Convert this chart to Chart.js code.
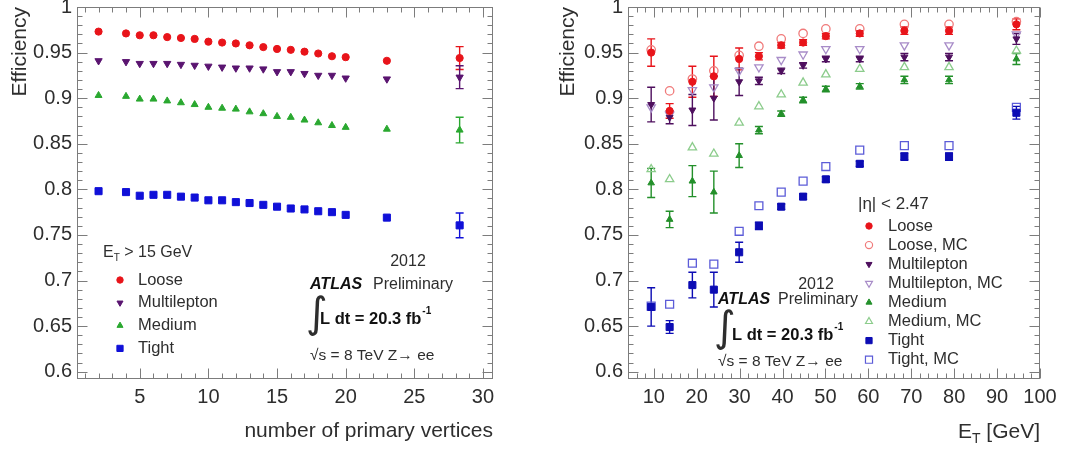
<!DOCTYPE html>
<html><head><meta charset="utf-8">
<script src="https://cdn.jsdelivr.net/npm/chart.js@4.4.0/dist/chart.umd.min.js"></script>
<style>
html,body{margin:0;padding:0;background:#fff;}
#wrap{position:relative;width:1084px;height:450px;overflow:hidden;}
#c1{position:absolute;left:0;top:0;}
#c2{position:absolute;left:540px;top:0;}
</style></head><body>
<div id="wrap"><canvas id="c1" width="540" height="450"></canvas><canvas id="c2" width="544" height="450"></canvas></div>
<script>
// ---------------- DATA ----------------
// Left panel: efficiency vs number of primary vertices (E_T > 15 GeV)
const nvtx = [2,4,5,6,7,8,9,10,11,12,13,14,15,16,17,18,19,20,23,28.3];
const looseNvtx  = [0.973,0.971,0.969,0.969,0.967,0.966,0.965,0.962,0.961,0.960,0.958,0.956,0.954,0.953,0.951,0.949,0.946,0.945,0.941,0.944];
const mlNvtx     = [0.941,0.940,0.938,0.938,0.938,0.937,0.936,0.935,0.934,0.933,0.933,0.932,0.929,0.929,0.927,0.925,0.925,0.922,0.921,0.923];
const mediumNvtx = [0.903,0.902,0.899,0.899,0.897,0.895,0.893,0.890,0.889,0.888,0.885,0.883,0.880,0.879,0.876,0.873,0.870,0.868,0.866,0.865];
const tightNvtx  = [0.798,0.797,0.793,0.794,0.794,0.792,0.791,0.788,0.788,0.786,0.785,0.783,0.781,0.779,0.778,0.776,0.775,0.772,0.769,0.7605];
const looseNvtxErr  = [0,0,0,0,0,0,0,0,0,0,0,0,0,0,0,0,0,0,0,0.0125];
const mlNvtxErr     = [0,0,0,0,0,0,0,0,0,0,0,0,0,0,0,0,0,0,0,0.0125];
const mediumNvtxErr = [0,0,0,0,0,0,0,0,0,0,0,0,0,0,0,0,0,0,0,0.014];
const tightNvtxErr  = [0,0,0,0,0,0,0,0,0,0,0,0,0,0,0,0,0,0,0,0.0135];

// Right panel: efficiency vs E_T (|eta| < 2.47), data and MC
const et = [9.4,13.7,19.0,24.0,29.9,34.5,39.7,44.8,50.1,58.0,68.4,78.8,94.5];
const looseEt     = [0.950,0.886,0.918,0.924,0.943,0.946,0.958,0.961,0.968,0.971,0.974,0.974,0.981];
const looseEtErr  = [0.015,0.008,0.017,0.022,0.012,0.004,0.003,0.003,0.003,0.003,0.004,0.004,0.006];
const looseMcEt   = [0.953,0.908,0.921,0.930,0.947,0.957,0.965,0.971,0.976,0.976,0.981,0.981,0.984];
const mlEt        = [0.893,0.879,0.887,0.900,0.918,0.919,0.930,0.936,0.943,0.943,0.945,0.945,0.965];
const mlEtErr     = [0.019,0.007,0.017,0.024,0.015,0.004,0.003,0.003,0.003,0.003,0.004,0.004,0.006];
const mlMcEt      = [0.890,0.882,0.909,0.912,0.930,0.934,0.942,0.948,0.954,0.954,0.958,0.958,0.970];
const mediumEt    = [0.807,0.767,0.809,0.797,0.837,0.865,0.883,0.898,0.910,0.913,0.920,0.920,0.943];
const mediumEtErr = [0.016,0.009,0.017,0.023,0.013,0.004,0.003,0.003,0.003,0.003,0.004,0.004,0.006];
const mediumMcEt  = [0.822,0.811,0.846,0.839,0.873,0.891,0.904,0.917,0.926,0.932,0.934,0.934,0.952];
const tightEt     = [0.671,0.649,0.695,0.690,0.731,0.760,0.781,0.792,0.811,0.828,0.836,0.836,0.884];
const tightEtErr  = [0.021,0.007,0.014,0.019,0.011,0.004,0.003,0.003,0.003,0.003,0.004,0.004,0.007];
const tightMcEt   = [0.672,0.674,0.719,0.718,0.754,0.782,0.797,0.809,0.825,0.843,0.848,0.848,0.890];

// Tick labels
const yTickValues = [0.6,0.65,0.7,0.75,0.8,0.85,0.9,0.95,1];
const yTickLabels = ['0.6','0.65','0.7','0.75','0.8','0.85','0.9','0.95','1'];
const nvtxTickValues = [5,10,15,20,25,30];
const nvtxTickLabels = ['5','10','15','20','25','30'];
const etTickValues = [10,20,30,40,50,60,70,80,90,100];
const etTickLabels = ['10','20','30','40','50','60','70','80','90','100'];

// ---------------- STYLE / HELPERS ----------------
const FONT = "'Liberation Sans', Arial, Helvetica, sans-serif";
const TXT = '#2e2e2e';
Chart.defaults.font.family = FONT;
Chart.defaults.color = TXT;
Chart.defaults.animation = false;

const C = {
  loose:'#e8141a', looseMc:'#f07a7a',
  ml:'#4e0f5e', mlNvtx:'#5a1470', mlMc:'#a88cc8',
  medium:'#23902a', mediumNvtx:'#2aa830', mediumMc:'#8ccc8c',
  tight:'#0c0cb4', tightNvtx:'#1010d8', tightMc:'#5c5cd8'
};

function mkds(label, xs, ys, errs, color, style, rot, filled, r){
  return {
    label, data: xs.map((x,i)=>({x, y: ys[i]})), errors: errs, showLine:false,
    pointStyle: style, pointRotation: rot, pointRadius: r, pointHoverRadius: r,
    pointBackgroundColor: filled ? color : 'rgba(0,0,0,0)',
    pointBorderColor: color, pointBorderWidth: filled ? 1 : 1.3,
    borderColor: color, backgroundColor: color
  };
}

const errorBars = {
  id:'errorBars',
  beforeDatasetsDraw(chart){
    const {ctx, scales:{x,y}} = chart;
    ctx.save();
    ctx.lineWidth = 1.4;
    chart.data.datasets.forEach(ds=>{
      if(!ds.errors) return;
      ctx.strokeStyle = ds.borderColor;
      ds.data.forEach((p,j)=>{
        const e = ds.errors[j]; if(!e) return;
        const px = x.getPixelForValue(p.x);
        const y1 = y.getPixelForValue(p.y+e), y2 = y.getPixelForValue(p.y-e);
        ctx.beginPath();
        ctx.moveTo(px,y1); ctx.lineTo(px,y2);
        ctx.moveTo(px-4,y1); ctx.lineTo(px+4,y1);
        ctx.moveTo(px-4,y2); ctx.lineTo(px+4,y2);
        ctx.stroke();
      });
    });
    ctx.restore();
  }
};

function frameTicks(xMajor, xMinor){
  return {
    id:'frameTicks',
    afterDraw(chart){
      const {ctx, chartArea:a, scales:{x,y}} = chart;
      ctx.save();
      ctx.strokeStyle = '#7c7c7c'; ctx.lineWidth = 1;
      const L0 = Math.round(a.left)+0.5, R0 = Math.round(a.right)-0.5, T0 = Math.round(a.top)+0.5, B0 = Math.round(a.bottom)-0.5;
      ctx.strokeRect(L0, T0, R0-L0, B0-T0);
      ctx.beginPath();
      const isMul = (v,m)=>Math.abs(v/m-Math.round(v/m))<1e-6;
      for(let k=Math.ceil(x.min/xMinor); k*xMinor<=x.max+1e-9; k++){
        const v=k*xMinor, px=Math.round(x.getPixelForValue(v))+0.5;
        const L = isMul(v,xMajor)?10:5;
        ctx.moveTo(px,B0); ctx.lineTo(px,B0-L);
        ctx.moveTo(px,T0); ctx.lineTo(px,T0+L);
      }
      for(let k=Math.ceil(y.min/0.01-1e-6); k*0.01<=y.max+1e-9; k++){
        const v=k*0.01, py=Math.round(y.getPixelForValue(v))+0.5;
        const L = isMul(v,0.05)?10:5;
        ctx.moveTo(L0,py); ctx.lineTo(L0+L,py);
        ctx.moveTo(R0,py); ctx.lineTo(R0-L,py);
      }
      ctx.stroke();
      ctx.restore();
    }
  };
}

function txt(ctx, s, x, y, size, o={}){
  ctx.font = `${o.style||'normal'} ${o.weight||'normal'} ${size}px ${o.family||FONT}`;
  ctx.fillStyle = o.color||TXT; ctx.textAlign = o.align||'left'; ctx.textBaseline='middle';
  ctx.fillText(s, x, y);
  return ctx.measureText(s).width;
}
function marker(ctx, style, rot, filled, color, r, x, y){
  ctx.save();
  ctx.fillStyle = filled ? color : 'rgba(0,0,0,0)';
  ctx.strokeStyle = color; ctx.lineWidth = filled?1:1.2;
  Chart.helpers.drawPoint(ctx, {pointStyle:style, rotation:rot, radius:r, borderWidth:1}, x, y);
  ctx.restore();
}
function atlasBlock(ctx, x, yYear, xYear, yAtlas, xPrelim, xInt, yInt, xL, yL, ySqrt){
  txt(ctx, '2012', xYear, yYear, 16, {align:'center'});
  txt(ctx, 'ATLAS', x, yAtlas, 16, {style:'italic', weight:'bold', color:'#111'});
  txt(ctx, 'Preliminary', xPrelim, yAtlas, 16);
  txt(ctx, '\u222B', xInt, yInt, 42, {family:"'DejaVu Sans', sans-serif"});
  const w = txt(ctx, 'L dt = 20.3 fb', xL, yL, 16.5, {weight:'bold', color:'#111'});
  txt(ctx, '-1', xL+w+1, yL-8, 10, {weight:'bold', color:'#111'});
  txt(ctx, '\u221As = 8 TeV Z\u2192 ee', x, ySqrt, 15.5);
}

function yScale(leftWidth, titlePad){
  return {
    type:'linear', position:'left', min:0.592, max:1.0,
    grid:{display:false, drawTicks:false}, border:{display:false},
    afterBuildTicks: s => { s.ticks = yTickValues.map(v=>({value:v})); },
    ticks:{padding:5, autoSkip:false, font:{size:20}, color:TXT, callback:(v,i)=>yTickLabels[i]},
    title:{display:true, text:'Efficiency', align:'end', font:{size:21}, color:TXT, padding:{top:titlePad, bottom:0}},
    afterFit: s => { s.width = leftWidth; s.paddingTop = 0; s.paddingBottom = 0; }
  };
}
function xScale(min, max, vals, labels, title){
  return {
    type:'linear', position:'bottom', min, max,
    grid:{display:false, drawTicks:false}, border:{display:false},
    afterBuildTicks: s => { s.ticks = vals.map(v=>({value:v})); },
    ticks:{padding:6, autoSkip:false, maxRotation:0, font:{size:20}, color:TXT, callback:(v,i)=>labels[i]},
    title:{display:!!title, text:title||'', align:'end', font:{size:21}, color:TXT, padding:{top:0, bottom:6}},
    afterFit: s => { s.height = 71; s.paddingLeft = 0; s.paddingRight = 0; }
  };
}

// ---------------- LEFT CHART ----------------
new Chart(document.getElementById('c1'), {
  type:'scatter',
  data:{datasets:[
    mkds('Loose', nvtx, looseNvtx, looseNvtxErr, C.loose, 'circle', 0, true, 3.6),
    mkds('Multilepton', nvtx, mlNvtx, mlNvtxErr, C.mlNvtx, 'triangle', 180, true, 4.2),
    mkds('Medium', nvtx, mediumNvtx, mediumNvtxErr, C.mediumNvtx, 'triangle', 0, true, 4.0),
    mkds('Tight', nvtx, tightNvtx, tightNvtxErr, C.tightNvtx, 'rect', 0, true, 5.0)
  ]},
  options:{
    responsive:false, devicePixelRatio:1, events:[],
    layout:{padding:{left:0, top:7, right:47, bottom:0}},
    plugins:{legend:{display:false}, tooltip:{enabled:false}},
    scales:{ x: xScale(0.43, 30.73, nvtxTickValues, nvtxTickLabels, 'number of primary vertices'), y: yScale(77, 8) }
  },
  plugins:[errorBars, frameTicks(5,1), {
    id:'annotLeft',
    afterDraw(chart){
      const ctx = chart.ctx; ctx.save();
      let w = txt(ctx, 'E', 103, 253, 16);
      const wt = txt(ctx, 'T', 103+w, 258, 10);
      txt(ctx, ' > 15 GeV', 103+w+wt, 253, 16);
      const items = [['Loose','circle',0,C.loose,3.2],['Multilepton','triangle',180,C.mlNvtx,3.5],['Medium','triangle',0,C.mediumNvtx,3.5],['Tight','rect',0,C.tightNvtx,4.4]];
      items.forEach((it,i)=>{
        const y = 280 + i*22.8;
        marker(ctx, it[1], it[2], true, it[3], it[4], 120, y);
        txt(ctx, it[0], 138, y, 16.5);
      });
      atlasBlock(ctx, 310, 262, 408, 285, 373, 306, 316, 320, 319, 356);
      ctx.restore();
    }
  }]
});

// ---------------- RIGHT CHART ----------------
new Chart(document.getElementById('c2'), {
  type:'scatter',
  data:{datasets:[
    mkds('Loose', et, looseEt, looseEtErr, C.loose, 'circle', 0, true, 3.6),
    mkds('Multilepton', et, mlEt, mlEtErr, C.ml, 'triangle', 180, true, 4.0),
    mkds('Medium', et, mediumEt, mediumEtErr, C.medium, 'triangle', 0, true, 3.8),
    mkds('Tight', et, tightEt, tightEtErr, C.tight, 'rect', 0, true, 5.0),
    mkds('Loose, MC', et, looseMcEt, null, C.looseMc, 'circle', 0, false, 4.2),
    mkds('Multilepton, MC', et, mlMcEt, null, C.mlMc, 'triangle', 180, false, 4.8),
    mkds('Medium, MC', et, mediumMcEt, null, C.mediumMc, 'triangle', 0, false, 4.8),
    mkds('Tight, MC', et, tightMcEt, null, C.tightMc, 'rect', 0, false, 5.6)
  ]},
  options:{
    responsive:false, devicePixelRatio:1, events:[],
    layout:{padding:{left:0, top:7, right:44, bottom:0}},
    plugins:{legend:{display:false}, tooltip:{enabled:false}},
    scales:{ x: xScale(4, 100, etTickValues, etTickLabels, null), y: yScale(88, 16) }
  },
  plugins:[errorBars, frameTicks(10,2), {
    id:'annotRight',
    afterDraw(chart){
      const ctx = chart.ctx; ctx.save();
      const right = chart.chartArea.right;
      ctx.font = `21px ${FONT}`; const wE = ctx.measureText('E').width;
      ctx.font = `14px ${FONT}`; const wT = ctx.measureText('T').width;
      ctx.font = `21px ${FONT}`; const wR = ctx.measureText(' [GeV]').width;
      const x0 = right - wE - wT - wR;
      txt(ctx, 'E', x0, 432, 21); txt(ctx, 'T', x0+wE, 439, 14); txt(ctx, ' [GeV]', x0+wE+wT, 432, 21);
      txt(ctx, '|\u03B7| < 2.47', 318, 204, 17);
      const items = [
        ['Loose','circle',0,true,C.loose,3.2],['Loose, MC','circle',0,false,C.looseMc,3.6],
        ['Multilepton','triangle',180,true,C.ml,3.5],['Multilepton, MC','triangle',180,false,C.mlMc,4.0],
        ['Medium','triangle',0,true,C.medium,3.5],['Medium, MC','triangle',0,false,C.mediumMc,4.0],
        ['Tight','rect',0,true,C.tight,4.4],['Tight, MC','rect',0,false,C.tightMc,5.0]
      ];
      items.forEach((it,i)=>{
        const y = 226 + i*19.1;
        marker(ctx, it[1], it[2], it[3], it[4], it[5], 329, y);
        txt(ctx, it[0], 348, y, 16.5);
      });
      atlasBlock(ctx, 178, 285, 276, 300, 238, 174, 330, 192, 335, 362);
      ctx.restore();
    }
  }]
});
</script>
</body></html>
